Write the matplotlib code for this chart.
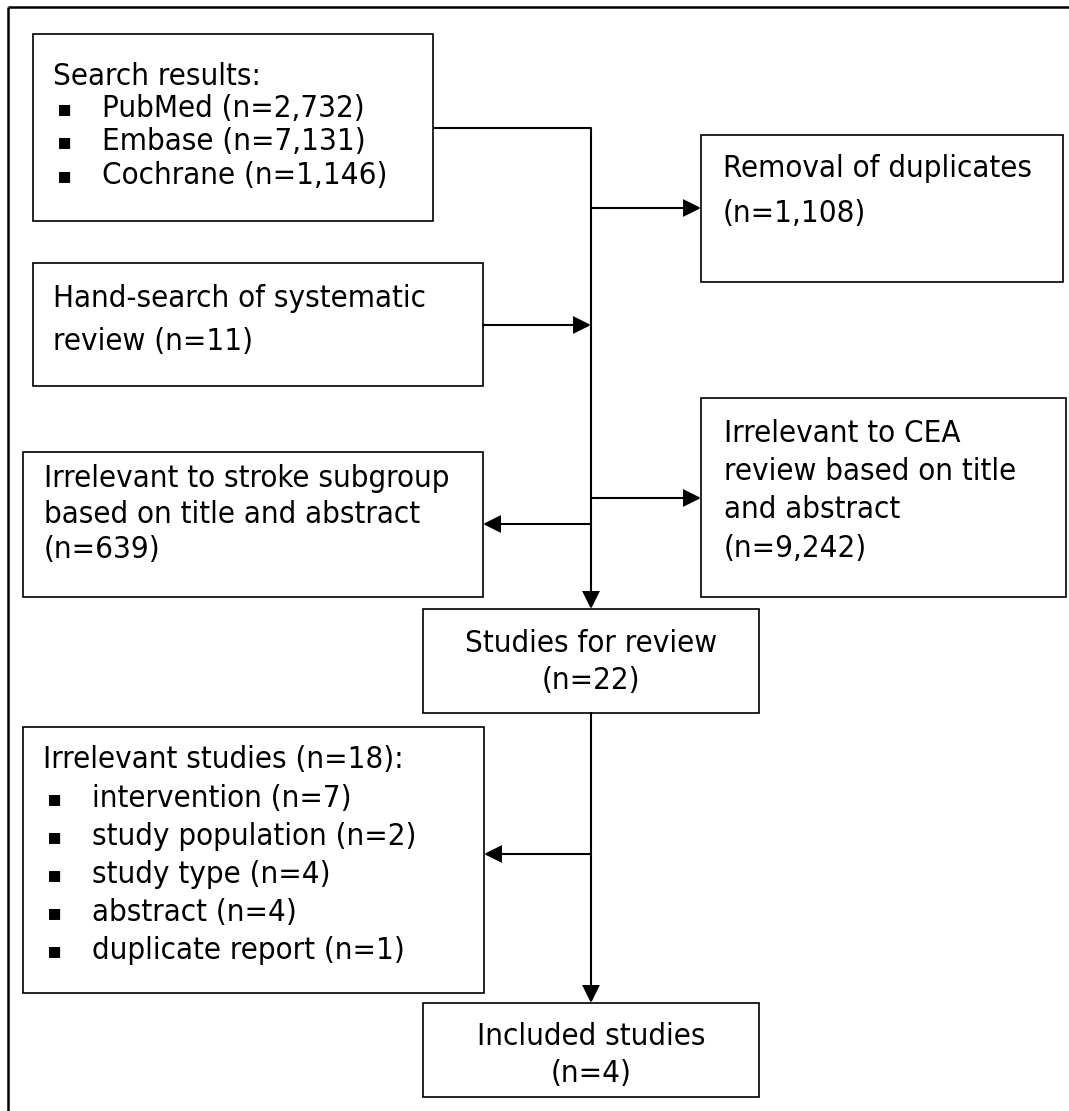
import matplotlib
matplotlib.use("Agg")
import matplotlib.pyplot as plt
from matplotlib.patches import Rectangle, FancyArrowPatch
from matplotlib.font_manager import FontProperties

# ---------------- data ----------------
search_sources = ["PubMed", "Embase", "Cochrane"]
search_counts = [2732, 7131, 1146]
duplicates_removed = 1108
hand_search_count = 11
stroke_irrelevant = 639
cea_irrelevant = 9242
studies_for_review = 22
exclusion_total = 18
exclusion_reasons = ["intervention", "study population", "study type",
                     "abstract", "duplicate report"]
exclusion_counts = [7, 2, 4, 4, 1]
included_studies = 4

# ---------------- figure ----------------
W, H, DPI = 1069, 1111, 100
fig = plt.figure(figsize=(W / DPI, H / DPI), dpi=DPI)
ax = fig.add_axes([0, 0, 1, 1])
ax.set_xlim(0, W)
ax.set_ylim(H, 0)
ax.axis("off")

FAMILY = "DejaVu Sans"
STRETCH = "condensed"

# fit font size so a reference string matches the reference width
probe = ax.text(0, 0, "Cochrane (n=1,146)",
                fontproperties=FontProperties(family=FAMILY, stretch=STRETCH, size=20))
fig.canvas.draw()
w = probe.get_window_extent().width
probe.remove()
FS = 20 * 285 / w

BOX_LW = 1.2
LINE_LW = 1.5


def txt(x, y, s, ha="left"):
    ax.text(x, y, s, ha=ha, va="baseline", fontsize=FS,
            family=FAMILY, fontstretch=STRETCH, color="black")


def bullet(x, y):
    ax.text(x, y - 2, "\u25aa", ha="left", va="baseline", fontsize=FS * 0.72,
            family="DejaVu Sans", color="black")


def box(x0, y0, x1, y1):
    ax.add_patch(Rectangle((x0, y0), x1 - x0, y1 - y0, fill=False,
                           edgecolor="black", lw=BOX_LW))


def line(p, q):
    ax.plot([p[0], q[0]], [p[1], q[1]], color="black", lw=LINE_LW,
            solid_capstyle="butt")


def arrow(p, q):
    ax.add_patch(FancyArrowPatch(p, q,
                                 arrowstyle="-|>,head_length=1.05,head_width=0.52",
                                 mutation_scale=10, lw=LINE_LW, color="black",
                                 shrinkA=0, shrinkB=0, joinstyle="miter"))


def n(v):
    return f"(n={v:,})"


# outer frame (left and top visible)
ax.plot([8, 8], [7, H], color="black", lw=1.8, solid_capstyle="butt")
ax.plot([8, W], [7, 7], color="black", lw=1.8, solid_capstyle="butt")

# boxes
box(33, 34, 433, 221)      # search results
box(701, 135, 1063, 282)   # duplicates
box(33, 263, 483, 386)     # hand search
box(23, 452, 483, 597)     # stroke subgroup
box(701, 398, 1066, 597)   # CEA
box(423, 609, 759, 713)    # studies for review
box(23, 727, 484, 993)     # irrelevant studies
box(423, 1003, 759, 1097)  # included

VX = 591
# connectors
line((433, 128), (VX, 128))
arrow((VX, 128), (VX, 609))
arrow((VX, 208), (701, 208))
arrow((483, 325), (VX, 325))
arrow((VX, 524), (483, 524))
arrow((VX, 498), (701, 498))
arrow((VX, 713), (VX, 1003))
arrow((VX, 854), (484, 854))

# texts: search results
txt(53, 85, "Search results:")
for i, (src, c) in enumerate(zip(search_sources, search_counts)):
    yb = 117 + 33.5 * i
    bullet(57, yb)
    txt(102, yb, f"{src} {n(c)}")

# duplicates
txt(723, 177, "Removal of duplicates")
txt(723, 222, n(duplicates_removed))

# hand search
txt(53, 307, "Hand-search of systematic")
txt(53, 350, f"review {n(hand_search_count)}")

# stroke subgroup
txt(44, 487, "Irrelevant to stroke subgroup")
txt(44, 523, "based on title and abstract")
txt(44, 558, n(stroke_irrelevant))

# CEA
txt(724, 442, "Irrelevant to CEA")
txt(724, 480, "review based on title")
txt(724, 518, "and abstract")
txt(724, 557, n(cea_irrelevant))

# studies for review
txt(VX, 652, "Studies for review", ha="center")
txt(VX, 689, n(studies_for_review), ha="center")

# irrelevant studies
txt(43, 768, f"Irrelevant studies {n(exclusion_total)}:")
for i, (r, c) in enumerate(zip(exclusion_reasons, exclusion_counts)):
    yb = 807 + 38 * i
    bullet(47, yb)
    txt(92, yb, f"{r} {n(c)}")

# included
txt(VX, 1045, "Included studies", ha="center")
txt(VX, 1082, n(included_studies), ha="center")

fig.savefig("out.png", dpi=DPI)
